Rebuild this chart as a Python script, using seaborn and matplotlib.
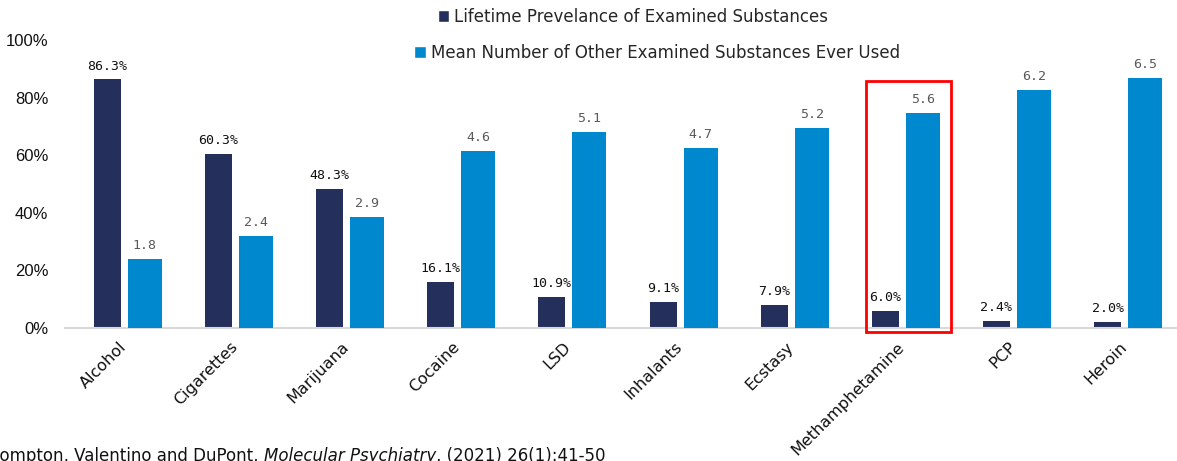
import matplotlib
matplotlib.use("Agg")
import matplotlib.pyplot as plt
from matplotlib.patches import Patch, Rectangle
from matplotlib.ticker import FuncFormatter
from matplotlib.transforms import ScaledTranslation
import pandas as pd
import seaborn as sns

substances = ["Alcohol", "Cigarettes", "Marijuana", "Cocaine", "LSD",
              "Inhalants", "Ecstasy", "Methamphetamine", "PCP", "Heroin"]
prevalence = [86.3, 60.3, 48.3, 16.1, 10.9, 9.1, 7.9, 6.0, 2.4, 2.0]
mean_other = [1.8, 2.4, 2.9, 4.6, 5.1, 4.7, 5.2, 5.6, 6.2, 6.5]
series_names = ["Lifetime Prevelance of Examined Substances",
                "Mean Number of Other Examined Substances Ever Used"]
highlight = "Methamphetamine"
citation = ["Compton, Valentino and DuPont, ", "Molecular Psychiatry",
            ", (2021) 26(1):41-50"]

NAVY = "#252F5C"
BLUE = "#0088CE"

sns.set_theme(style="white")
plt.rcParams["font.family"] = ["DejaVu Sans"]

df = pd.DataFrame({"substance": substances,
                   "prevalence": prevalence,
                   "mean_other": mean_other})

W, H = 1177, 461
fig = plt.figure(figsize=(W / 100, H / 100), dpi=100)
ax = fig.add_axes([65 / W, 133 / H, 1 - 65 / W, 288 / H])
ax2 = ax.twinx()

sns.barplot(data=df, x="substance", y="prevalence", color=NAVY,
            saturation=1, ax=ax, width=0.3, errorbar=None)
sns.barplot(data=df, x="substance", y="mean_other", color=BLUE,
            saturation=1, ax=ax2, width=0.3, errorbar=None)

# place the two bars of each group side by side with their own widths
px = 111.2
dark_w, light_w, gap = 27 / px, 34 / px, 7 / px
span = dark_w + gap + light_w
for p in ax.patches:
    c = round(p.get_x() + p.get_width() / 2)
    p.set_width(dark_w)
    p.set_x(c - span / 2)
    p.set_edgecolor("none")
for p in ax2.patches:
    c = round(p.get_x() + p.get_width() / 2)
    p.set_width(light_w)
    p.set_x(c + span / 2 - light_w)
    p.set_edgecolor("none")

xlim = (-0.565, 9.44)
ax.set_xlim(*xlim)
ax2.set_xlim(*xlim)
ax.set_ylim(0, 100)
ax2.set_ylim(0, 7.5)

ax.bar_label(ax.containers[0], labels=[f"{v:.1f}%" for v in prevalence],
             padding=5, fontsize=9.5, color="#111111",
             family="DejaVu Sans Mono")
ax2.bar_label(ax2.containers[0], labels=[f"{v:.1f}" for v in mean_other],
              padding=5, fontsize=9.5, color="#595959",
              family="DejaVu Sans Mono")

ax.set_yticks([0, 20, 40, 60, 80, 100])
ax.yaxis.set_major_formatter(FuncFormatter(lambda v, _: f"{v:.0f}%"))
ax.tick_params(axis="y", length=0, pad=12, labelsize=12, labelcolor="#111111")
for lab in ax.get_yticklabels():
    lab.set_family("Liberation Sans")
ax.tick_params(axis="x", length=0, pad=8, labelsize=11.5, labelcolor="#111111")
ax.set_xticks(range(len(substances)))
ax.set_xticklabels(substances, rotation=45, ha="right",
                   rotation_mode="anchor")
shift = ScaledTranslation(-9 / 100, 0, fig.dpi_scale_trans)
for lab in ax.get_xticklabels():
    lab.set_transform(lab.get_transform() + shift)
ax.set_xlabel("")
ax.set_ylabel("")
ax2.set_ylabel("")
ax2.set_yticks([])
for s in ["top", "right", "left"]:
    ax.spines[s].set_visible(False)
ax.spines["bottom"].set_color("#D9D9D9")
ax.spines["bottom"].set_linewidth(1.5)
for s in ax2.spines.values():
    s.set_visible(False)

# highlight box around one substance group
i = substances.index(highlight)
x0 = i - span / 2 - 6 / px
x1 = i + span / 2 + 11 / px
box = Rectangle((x0, -1.4), x1 - x0, 87.2,
                fill=False, edgecolor="#FF0000", linewidth=2,
                clip_on=False, zorder=5)
ax.add_patch(box)

# legend rows, each centred on its own line
for name, color, cx, cy in [(series_names[0], NAVY, 633, 17),
                            (series_names[1], BLUE, 657, 53)]:
    fig.legend(handles=[Patch(facecolor=color)], labels=[name],
               loc="center", bbox_to_anchor=(cx / W, 1 - cy / H),
               frameon=False, fontsize=12, handlelength=0.7,
               handleheight=0.7, handletextpad=0.3, borderpad=0)

# source line with italic journal name
fig.canvas.draw()
renderer = fig.canvas.get_renderer()
x = -12
for k, part in enumerate(citation):
    t = fig.text(x / W, 1 - 447 / H, part, fontsize=12, va="top",
                 style="italic" if k == 1 else "normal", color="#111111")
    x += t.get_window_extent(renderer).width

fig.savefig("out.png", dpi=100)
